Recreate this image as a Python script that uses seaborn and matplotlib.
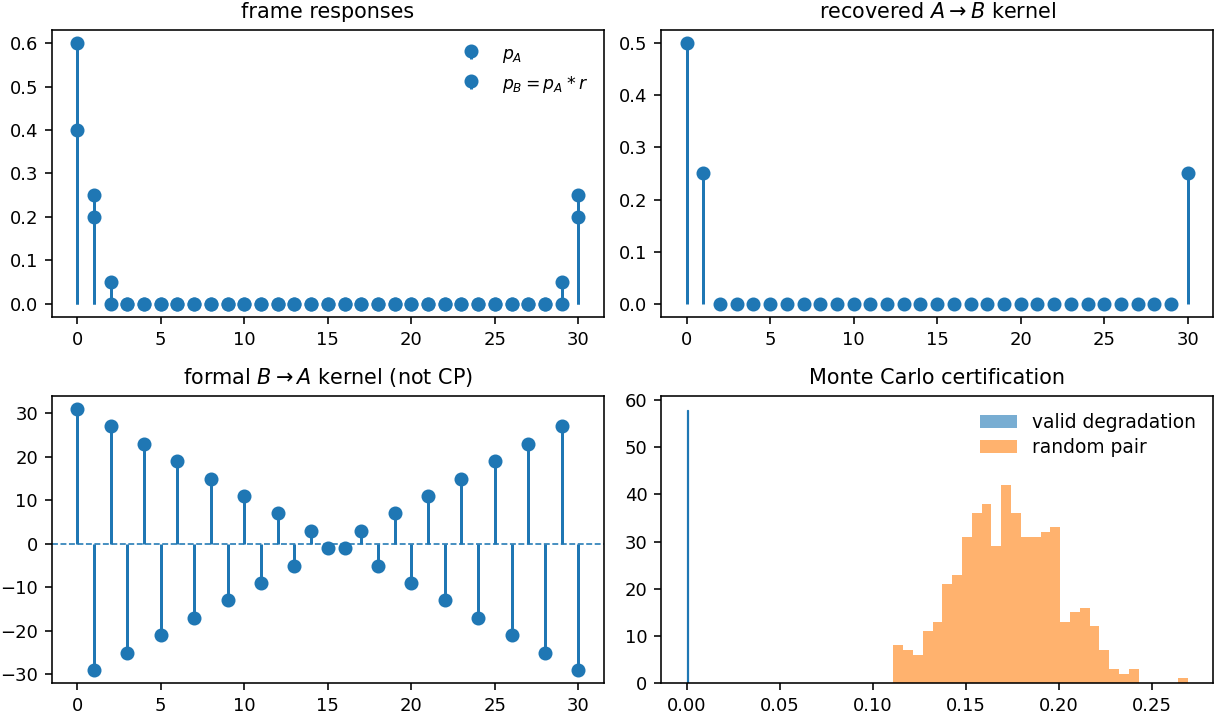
import numpy as np
import pandas as pd
import matplotlib
matplotlib.use("Agg")
import matplotlib.pyplot as plt
import seaborn as sns

# ---- data ----
n_idx = list(range(31))
p_A = [0.6, 0.2] + [0.0] * 28 + [0.2]
p_B = [0.4, 0.25, 0.05] + [0.0] * 26 + [0.05, 0.25]
kernel_r = [0.5, 0.25] + [0.0] * 28 + [0.25]
formal_inv = [31, -29, 27, -25, 23, -21, 19, -17, 15, -13, 11, -9, 7, -5, 3, -1,
              -1, 3, -5, 7, -9, 11, -13, 15, -17, 19, -21, 23, -25, 27, -29]

# Monte Carlo histogram (30 bins)
rand_lo = 0.1109
rand_hi = 0.2694
rand_counts = [8, 7, 6, 11, 13, 21, 23, 31, 36, 38, 29, 42, 36, 31, 31,
               32, 33, 13, 15, 16, 12, 7, 3, 2, 3, 0, 0, 0, 0, 1]
valid_value = [0.0]
valid_count = [58]

rand_edges = [float(v) for v in np.linspace(rand_lo, rand_hi, len(rand_counts) + 1)]
rand_centers = [0.5 * (a + b) for a, b in zip(rand_edges[:-1], rand_edges[1:])]
df_rand = pd.DataFrame({"x": rand_centers, "w": rand_counts})
df_valid = pd.DataFrame({"x": valid_value, "w": valid_count})

plt.rcParams["legend.frameon"] = False
plt.rcParams["font.size"] = 9
plt.rcParams["axes.titlesize"] = 10.4
plt.rcParams["legend.fontsize"] = 9.3
plt.rcParams["lines.markersize"] = 6

fig, axes = plt.subplots(2, 2, figsize=(1216 / 144, 717 / 144), dpi=144)
fig.subplots_adjust(left=0.0428, right=0.9975, top=0.9582, bottom=0.0474,
                    wspace=0.105, hspace=0.275)

# top-left
ax = axes[0, 0]
ax.stem(n_idx, p_A, linefmt="C0-", markerfmt="C0o", basefmt=" ", label=r"$p_A$")
ax.stem(n_idx, p_B, linefmt="C0-", markerfmt="C0o", basefmt=" ", label=r"$p_B = p_A * r$")
ax.set_title("frame responses")
ax.legend(loc="upper right", fontsize=8.6)

# top-right
ax = axes[0, 1]
ax.stem(n_idx, kernel_r, linefmt="C0-", markerfmt="C0o", basefmt=" ")
ax.set_title(r"recovered $A \to B$ kernel")

# bottom-left
ax = axes[1, 0]
ax.stem(n_idx, formal_inv, linefmt="C0-", markerfmt="C0o", basefmt=" ")
ax.axhline(0, color="C0", ls="--", lw=0.8)
ax.set_title(r"formal $B \to A$ kernel (not CP)")
ax.set_yticks([-30, -20, -10, 0, 10, 20, 30])

# bottom-right
ax = axes[1, 1]
sns.histplot(data=df_valid, x="x", weights="w", bins=[-0.0003, 0.0003], ax=ax,
             color="C0", alpha=0.6, linewidth=0.6, edgecolor="C0",
             label="valid degradation")
sns.histplot(data=df_rand, x="x", weights="w", bins=rand_edges, ax=ax,
             color="C1", alpha=0.6, linewidth=0, label="random pair")
ax.set_xlabel("")
ax.set_ylabel("")
ax.set_title("Monte Carlo certification")
leg = ax.legend(loc="upper right", labelspacing=0.35)
for h in leg.legend_handles:
    h.set_edgecolor("none")

fig.savefig("out.png", dpi=144)
